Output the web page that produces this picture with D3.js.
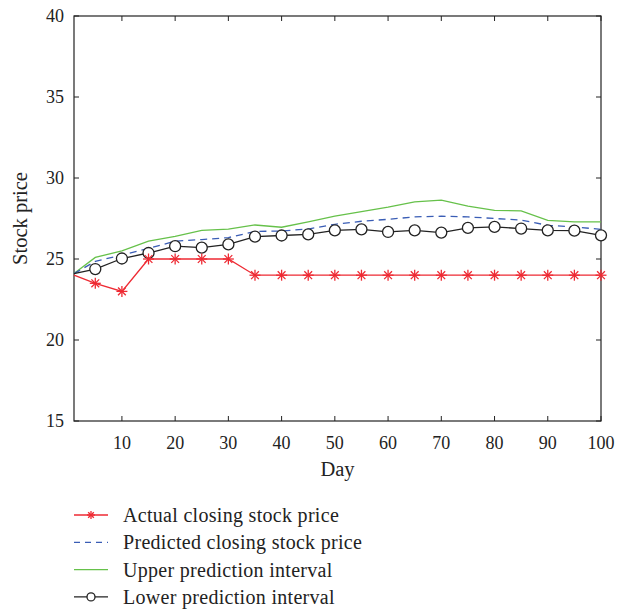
<!DOCTYPE html>
<html>
<head>
<meta charset="utf-8">
<script src="https://cdn.jsdelivr.net/npm/d3@7"></script>
<style>
  body { margin: 0; background: #fff; }
  text { font-family: "Liberation Serif", "DejaVu Serif", serif; fill: #222; }
</style>
</head>
<body>
<div id="chart"></div>
<script>
// values
const days = [1, 5, 10, 15, 20, 25, 30, 35, 40, 45, 50, 55, 60, 65, 70, 75, 80, 85, 90, 95, 100];
const actual = [24, 23.5, 23, 25, 25, 25, 25, 24, 24, 24, 24, 24, 24, 24, 24, 24, 24, 24, 24, 24, 24];
const predicted = [24.1, 24.85, 25.25, 25.65, 26.1, 26.2, 26.32, 26.7, 26.73, 26.85, 27.14, 27.33, 27.45, 27.6, 27.64, 27.6, 27.5, 27.4, 27.08, 26.98, 26.83];
const upper = [24.1, 25.1, 25.5, 26.1, 26.4, 26.77, 26.85, 27.1, 26.96, 27.29, 27.64, 27.93, 28.2, 28.52, 28.63, 28.26, 28.0, 27.97, 27.39, 27.29, 27.29];
const lower = [24.1, 24.38, 25.03, 25.37, 25.79, 25.7, 25.9, 26.38, 26.45, 26.52, 26.77, 26.83, 26.67, 26.77, 26.63, 26.92, 26.98, 26.88, 26.77, 26.75, 26.46];
const xTicks = [10, 20, 30, 40, 50, 60, 70, 80, 90, 100];
const yTicks = [15, 20, 25, 30, 35, 40];
const legendLabels = ['Actual closing stock price', 'Predicted closing stock price', 'Upper prediction interval', 'Lower prediction interval'];

const W = 617, H = 610;
const margin = {left: 74, top: 16, right: 16, bottom: 189};
const pw = W - margin.left - margin.right;
const ph = H - margin.top - margin.bottom;

const red = '#ee2a33', blue = '#3a5db5', green = '#66c14a', black = '#222';

const svg = d3.select('#chart').append('svg').attr('width', W).attr('height', H);
const g = svg.append('g').attr('transform', `translate(${margin.left},${margin.top})`);

const x = d3.scaleLinear().domain([1, 100]).range([0, pw]);
const y = d3.scaleLinear().domain([15, 40]).range([ph, 0]);

// frame
g.append('rect').attr('width', pw).attr('height', ph)
  .attr('fill', 'none').attr('stroke', black).attr('stroke-width', 1.2);

// inward ticks on all four sides
const tl = 5;
xTicks.forEach(t => {
  g.append('line').attr('x1', x(t)).attr('x2', x(t)).attr('y1', ph).attr('y2', ph - tl).attr('stroke', black);
  g.append('line').attr('x1', x(t)).attr('x2', x(t)).attr('y1', 0).attr('y2', tl).attr('stroke', black);
  g.append('text').attr('x', x(t)).attr('y', ph + 28).attr('text-anchor', 'middle')
    .attr('font-size', 18).text(t);
});
yTicks.forEach(t => {
  g.append('line').attr('x1', 0).attr('x2', tl).attr('y1', y(t)).attr('y2', y(t)).attr('stroke', black);
  g.append('line').attr('x1', pw).attr('x2', pw - tl).attr('y1', y(t)).attr('y2', y(t)).attr('stroke', black);
  g.append('text').attr('x', -10).attr('y', y(t)).attr('dy', '0.35em').attr('text-anchor', 'end')
    .attr('font-size', 18).text(t);
});

g.append('text').attr('x', pw / 2).attr('y', ph + 55).attr('text-anchor', 'middle')
  .attr('font-size', 20.5).text('Day');
g.append('text').attr('transform', `translate(${-47},${ph / 2}) rotate(-90)`)
  .attr('text-anchor', 'middle').attr('font-size', 20.5).text('Stock price');

const line = d3.line().x((d, i) => x(days[i])).y(d => y(d));

function star(sel, cx, cy, r) {
  const s = sel.append('g').attr('transform', `translate(${cx},${cy})`)
    .attr('stroke', red).attr('stroke-width', 1.3);
  [0, 45, 90, 135].forEach(a => {
    const rad = a * Math.PI / 180;
    s.append('line').attr('x1', -r * Math.cos(rad)).attr('y1', -r * Math.sin(rad))
      .attr('x2', r * Math.cos(rad)).attr('y2', r * Math.sin(rad));
  });
}

// markers only on the 5-day steps, not on day 1
const marked = (d, i) => days[i] % 5 === 0;

g.append('path').datum(upper).attr('d', line).attr('fill', 'none').attr('stroke', green).attr('stroke-width', 1.3);
g.append('path').datum(predicted).attr('d', line).attr('fill', 'none').attr('stroke', blue)
  .attr('stroke-width', 1.3).attr('stroke-dasharray', '7,5');
g.append('path').datum(lower).attr('d', line).attr('fill', 'none').attr('stroke', black).attr('stroke-width', 1.3);
g.selectAll('circle.low').data(lower.map((d, i) => [days[i], d]).filter(marked)).join('circle').attr('class', 'low')
  .attr('cx', d => x(d[0])).attr('cy', d => y(d[1])).attr('r', 5.5)
  .attr('fill', '#fff').attr('stroke', black).attr('stroke-width', 1.3);
g.append('path').datum(actual).attr('d', line).attr('fill', 'none').attr('stroke', red).attr('stroke-width', 1.3);
actual.forEach((d, i) => { if (marked(d, i)) star(g, x(days[i]), y(d), 5.5); });

// legend
const lg = svg.append('g').attr('transform', 'translate(74,515)');
legendLabels.forEach((lab, i) => {
  const row = lg.append('g').attr('transform', `translate(0,${i * 27.3})`);
  const ln = row.append('line').attr('x1', 0).attr('x2', 34).attr('y1', 0).attr('y2', 0).attr('stroke-width', 1.3);
  if (i === 0) { ln.attr('stroke', red); star(row, 17, 0, 4); }
  if (i === 1) ln.attr('stroke', blue).attr('stroke-dasharray', '6,5');
  if (i === 2) ln.attr('stroke', green);
  if (i === 3) {
    ln.attr('stroke', black);
    row.append('circle').attr('cx', 17).attr('cy', 0).attr('r', 4).attr('fill', '#fff').attr('stroke', black).attr('stroke-width', 1.3);
  }
  row.append('text').attr('x', 49).attr('dy', '0.35em').attr('font-size', 20)
    .attr('letter-spacing', 0.3).text(lab);
});
</script>
</body>
</html>
